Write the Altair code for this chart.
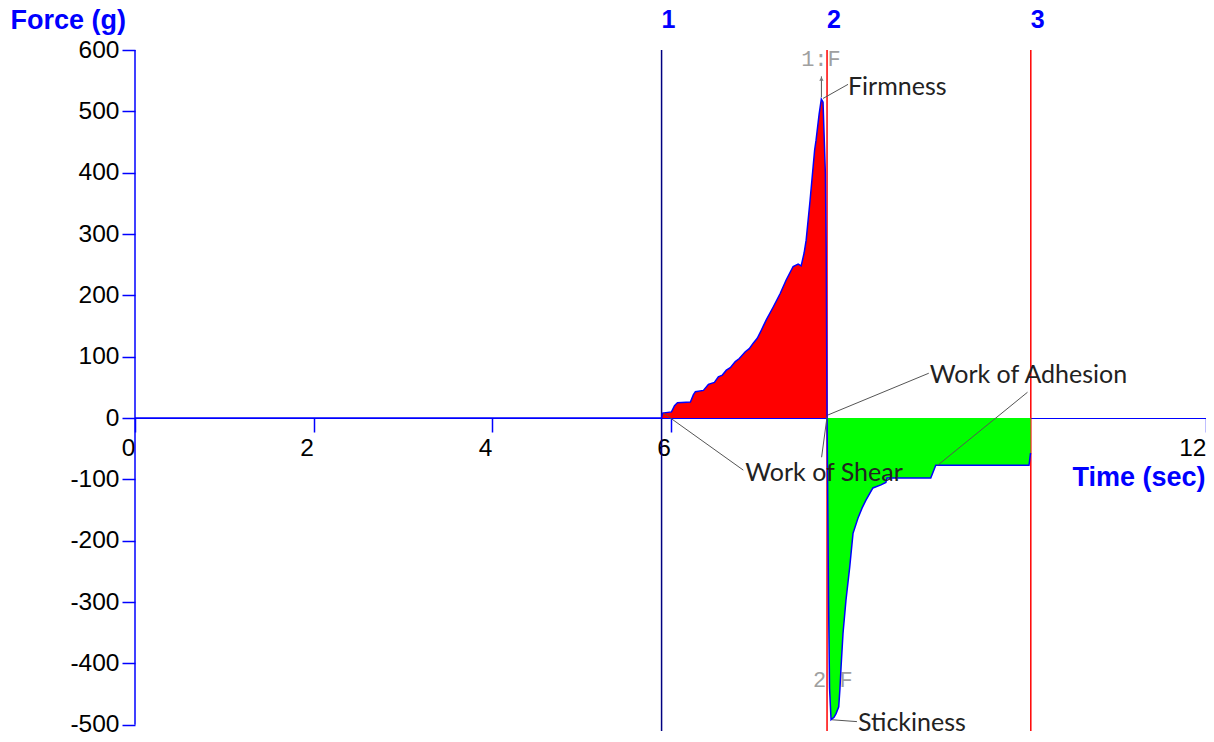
import altair as alt
import pandas as pd

# ---------------- data ----------------
# baseline (no contact)
base_t = [0.0, 5.90]
base_f = [0.0, 0.0]
# compression phase (red, Work of Shear)
comp_t = [5.90, 5.911, 6.011, 6.045, 6.078, 6.223, 6.257, 6.279, 6.369, 6.425,
          6.492, 6.536, 6.581, 6.626, 6.670, 6.726, 6.771, 6.838, 6.883, 6.927,
          6.972, 7.017, 7.073, 7.151, 7.229, 7.296, 7.374, 7.430, 7.464, 7.497,
          7.520, 7.564, 7.615, 7.631, 7.665, 7.690, 7.709, 7.735, 7.744, 7.754]
comp_f = [0, 8, 10, 20, 25, 26, 38, 43, 45, 55,
          58, 67, 70, 78, 82, 92, 97, 108, 113, 122,
          130, 143, 160, 181, 203, 225, 247, 251, 248, 269,
          290, 355, 437, 453, 495, 520, 515, 400, 280, 0]
# withdrawal phase (green, Work of Adhesion)
with_t = [7.754, 7.760, 7.771, 7.782, 7.799, 7.832, 7.855, 7.885, 7.899, 7.911,
          7.933, 7.966, 8.008, 8.045, 8.101, 8.146, 8.190, 8.268, 8.358, 8.413,
          8.425, 8.916, 8.950, 8.972, 10.017, 10.034]
with_f = [0, -100, -300, -440, -492, -488, -482, -471, -440, -406,
          -351, -297, -243, -188, -163, -147, -134, -114, -109, -105,
          -98, -98, -85, -77, -77, -57]

# marker lines
marker_t = [5.90, 7.754, 10.037]
marker_lbl = ["1", "2", "3"]

# annotation labels
ann_text = ["Firmness", "Work of Adhesion", "Work of Shear", "Stickiness"]
ann_t = [7.989, 8.905, 6.838, 8.101]
ann_f = [540, 70, -90, -497]

# peak labels
peak_text = ["1:F", "2:F"]
peak_t = [7.464, 7.598]
peak_f = [586, -427]

# leader lines
seg_t1 = [7.709, 7.691, 7.765, 8.994, 5.922, 7.754, 7.810]
seg_f1 = [521, 523, 5, -77, 8, 2, -492]
seg_t2 = [7.989, 7.691, 8.894, 10.0, 6.816, 7.693, 8.089]
seg_f2 = [544, 557, 73, 42, -85, -64, -495]

arrow_t = [7.691]
arrow_f = [553]

x_ticks = [0, 2, 4, 6, 8, 10, 12]
y_ticks = [-500, -400, -300, -200, -100, 0, 100, 200, 300, 400, 500, 600]

# ---------------- tables ----------------
curve = pd.DataFrame({
    "t": base_t + comp_t + with_t,
    "f": base_f + comp_f + with_f,
})
comp = pd.DataFrame({"t": comp_t, "f": comp_f})
withd = pd.DataFrame({"t": with_t, "f": with_f})
markers = pd.DataFrame({"t": marker_t, "lbl": marker_lbl})
ann = pd.DataFrame({"t": ann_t, "f": ann_f, "txt": ann_text})
peaks = pd.DataFrame({"t": peak_t, "f": peak_f, "txt": peak_text})
segs = pd.DataFrame({"t1": seg_t1, "f1": seg_f1, "t2": seg_t2, "f2": seg_f2})
arrow = pd.DataFrame({"t": arrow_t, "f": arrow_f})
yaxis_line = pd.DataFrame({"t": [0.0], "f1": [-500], "f2": [600]})

PXU = 368 / 600.0            # pixels per gram
YMIN, YMAX = -510.3, 600
W = 1071
H = round((YMAX - YMIN) * PXU)
y0px = YMAX * PXU

xs = alt.Scale(domain=[0, 12], nice=False, zero=False)
ys = alt.Scale(domain=[YMIN, YMAX], nice=False, zero=False)

BLUE = "#0000ff"
ANN_FONT = "Lato"

x_axis = alt.Axis(
    values=x_ticks, labelExpr="'' + datum.value", orient="bottom",
    offset=-(H - y0px),
    domainColor=BLUE, domainWidth=1.2, tickColor=BLUE, tickWidth=1.5, tickSize=14,
    labelFont="Liberation Sans", labelFontSize=24.5, labelColor="#000000",
    labelAlign="right", labelPadding=4, labelFlush=False, labelOverlap=False,
    grid=False, title="Time (sec)", titleFont="Liberation Sans", titleFontSize=27,
    titleFontWeight="bold", titleColor=BLUE, titleX=1070, titleY=59,
    titleAlign="right", titleBaseline="middle", titleAngle=0,
)
y_axis = alt.Axis(
    values=y_ticks, labelExpr="'' + datum.value", domain=False, tickColor=BLUE,
    tickWidth=1.5, tickSize=13, labelFont="Liberation Sans", labelFontSize=24.5,
    labelColor="#000000", labelPadding=3, grid=False, title="Force (g)",
    titleFont="Liberation Sans", titleFontSize=27, titleFontWeight="bold",
    titleColor=BLUE, titleX=-125, titleY=-30, titleAlign="left",
    titleBaseline="middle", titleAngle=0,
)


def X(field):
    return alt.X(field, scale=xs, axis=x_axis)


def Y(field):
    return alt.Y(field, scale=ys, axis=y_axis)


marker_lines = alt.Chart(markers).mark_rule(strokeWidth=1.5).encode(
    x=X("t:Q"),
    y=alt.value(0), y2=alt.value(H),
    color=alt.Color("lbl:N", scale=alt.Scale(domain=marker_lbl,
                    range=["#000080", "#ff0000", "#ff0000"]), legend=None),
)

peak_labels = alt.Chart(peaks).mark_text(
    font="Liberation Mono", fontSize=22, color="#a0a0a0", align="left",
    baseline="middle").encode(
    x=X("t:Q"), y=Y("f:Q"), text="txt:N",
)

red_area = alt.Chart(comp).mark_area(color="#ff0000", opacity=1).encode(
    x=X("t:Q"), y=Y("f:Q"), y2=alt.datum(0),
)
green_area = alt.Chart(withd).mark_area(color="#00ff00", opacity=1).encode(
    x=X("t:Q"), y=Y("f:Q"), y2=alt.datum(0),
)
line = alt.Chart(curve).mark_line(color=BLUE, strokeWidth=1.5).encode(
    x=X("t:Q"), y=Y("f:Q"), order="t:Q",
)
yline = alt.Chart(yaxis_line).mark_rule(color=BLUE, strokeWidth=1.5).encode(
    x=X("t:Q"), y=Y("f1:Q"), y2="f2:Q",
)
leaders = alt.Chart(segs).mark_rule(color="#555555", strokeWidth=1).encode(
    x=X("t1:Q"), x2="t2:Q", y=Y("f1:Q"), y2="f2:Q",
)
arrowhead = alt.Chart(arrow).mark_point(shape="triangle-up", filled=True,
                                        size=18, color="#777777", opacity=1).encode(
    x=X("t:Q"), y=Y("f:Q"),
)
ann_labels = alt.Chart(ann).mark_text(
    font=ANN_FONT, fontSize=25, color="#222222", align="left",
    baseline="middle").encode(
    x=X("t:Q"), y=Y("f:Q"), text="txt:N",
)
marker_nums = alt.Chart(markers).mark_text(
    font="Liberation Sans", fontSize=25, fontWeight="bold", color=BLUE,
    align="left", baseline="middle").encode(
    x=X("t:Q"), y=alt.value(-30), text="lbl:N",
)

chart = alt.layer(
    marker_lines, peak_labels, red_area, green_area, line, yline, leaders,
    arrowhead, ann_labels, marker_nums,
).properties(
    width=W, height=H,
    padding={"left": 127, "top": 42, "right": 0, "bottom": 3},
    autosize="none",
    background="white",
).configure_view(stroke=None)

chart.save("out.html", embed_options={"renderer": "svg", "actions": False})
